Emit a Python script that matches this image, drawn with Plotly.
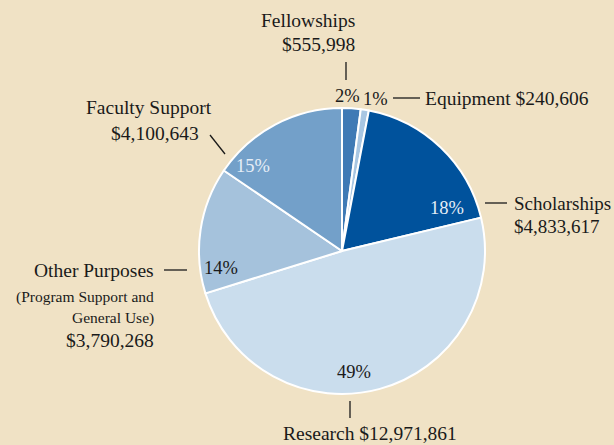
import plotly.graph_objects as go

categories = ["Fellowships", "Equipment", "Scholarships", "Research", "Other Purposes", "Faculty Support"]
amounts = [555998, 240606, 4833617, 12971861, 3790268, 4100643]
percent_labels = ["2%", "1%", "18%", "49%", "14%", "15%"]
amount_labels = ["$555,998", "$240,606", "$4,833,617", "$12,971,861", "$3,790,268", "$4,100,643"]
colors = ["#3F7AB5", "#A8C6E2", "#00529C", "#CADDED", "#A5C2DC", "#73A0C9"]

W, H = 614, 445
BG = "#F0E2C5"
FONT = "Liberation Serif"
LBL = 19.5
PCT = 18.5


def px(x, y):
    return x / W, 1 - y / H


fig = go.Figure(go.Pie(
    labels=categories,
    values=amounts,
    sort=False,
    direction="clockwise",
    rotation=0,
    marker=dict(colors=colors, line=dict(color="white", width=2)),
    textinfo="none",
    hoverinfo="label+value+percent",
    showlegend=False,
    domain=dict(x=[199 / W, 485 / W], y=[1 - 394 / H, 1 - 108 / H]),
))

annotations = []


def add_text(text, x, y, xanchor="center", size=LBL, color="#1a1a1a", align="center"):
    ax, ay = px(x, y)
    annotations.append(dict(
        text=text, x=ax, y=ay, xref="paper", yref="paper", showarrow=False,
        xanchor=xanchor, yanchor="middle", align=align,
        font=dict(family=FONT, size=size, color=color),
    ))


shapes = []


def add_line(x0, y0, x1, y1):
    a0, b0 = px(x0, y0)
    a1, b1 = px(x1, y1)
    shapes.append(dict(type="line", xref="paper", yref="paper", x0=a0, y0=b0, x1=a1, y1=b1,
                       line=dict(color="#1a1a1a", width=1.3)))


# Fellowships
add_text(categories[0], 357, 20, xanchor="right")
add_text(amount_labels[0], 357, 44, xanchor="right")
add_line(346, 62, 346, 80)
add_text(percent_labels[0], 347, 96, size=PCT)
# Equipment
add_text(percent_labels[1], 375, 99, size=PCT)
add_line(393, 98, 420, 98)
add_text(categories[1] + " " + amount_labels[1], 423, 98, xanchor="left")
# Scholarships
add_text(percent_labels[2], 447, 208, size=PCT, color="#E6EEF7")
add_line(485, 203, 507, 203)
add_text(categories[2], 512, 203, xanchor="left", size=19)
add_text(amount_labels[2], 512, 226, xanchor="left", size=19)
# Research
add_text(percent_labels[3], 354, 372, size=PCT)
add_line(350, 401, 350, 418)
add_text(categories[3] + " " + amount_labels[3], 370, 433)
# Other Purposes
add_text(percent_labels[4], 221, 268, size=PCT)
add_line(164, 270, 187, 270)
add_text(categories[4], 156, 270, xanchor="right")
add_text("(Program Support and", 156, 297, xanchor="right", size=15.5)
add_text("General Use)", 156, 318, xanchor="right", size=15.5)
add_text(amount_labels[4], 156, 340, xanchor="right")
# Faculty Support
add_text(percent_labels[5], 253, 166, size=PCT, color="#E6EEF7")
add_line(210, 135, 225, 154)
add_text(categories[5], 149, 107)
add_text(amount_labels[5], 155, 133)

fig.update_layout(
    width=W, height=H,
    margin=dict(l=0, r=0, t=0, b=0),
    paper_bgcolor=BG, plot_bgcolor=BG,
    font=dict(family=FONT),
    annotations=annotations,
    shapes=shapes,
)

fig.write_html(
    "out.html",
    config={"displayModeBar": False},
    post_script="document.body.style.margin='0';document.body.style.overflow='hidden';document.body.style.background='" + BG + "';",
)
